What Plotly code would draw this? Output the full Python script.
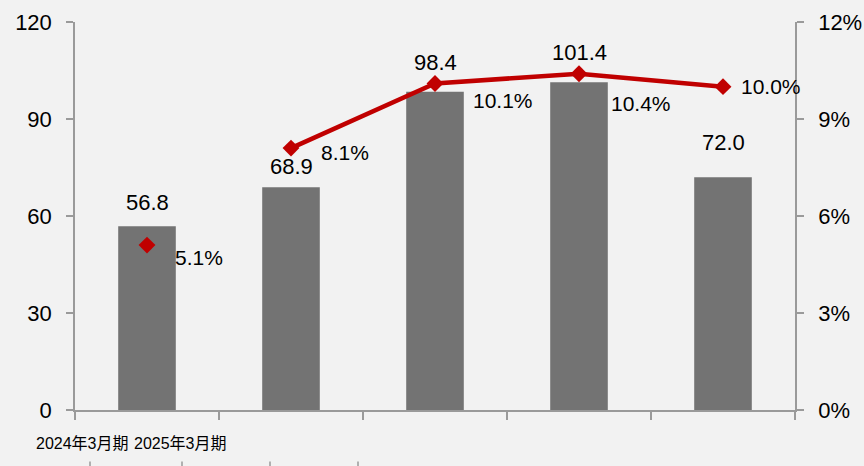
import plotly.graph_objects as go

categories = ["2024年3月期", "2025年3月期", "", "", ""]
bar_values = [56.8, 68.9, 98.4, 101.4, 72.0]
ratio_values = [5.1, 8.1, 10.1, 10.4, 10.0]  # percent
left_ticks = [0, 30, 60, 90, 120]
right_ticks = [0, 3, 6, 9, 12]

# label offsets (style) in px
bar_label_yshift = [9, 6, 15, 15, 20]
ratio_label_offsets = [(26, -12), (28, -4), (36, -17), (30, -30), (16, 0)]

BAR_COLOR = "#737373"
LINE_COLOR = "#C00000"
AXIS_COLOR = "#9A9A9A"
BG = "#F2F2F2"
FONT = "Liberation Sans, Arial, sans-serif"

x_idx = list(range(len(bar_values)))

fig = go.Figure()
fig.add_trace(go.Bar(x=x_idx, y=bar_values, marker=dict(color=BAR_COLOR, line=dict(width=0)),
                     width=0.4, yaxis="y", hoverinfo="skip"))

# isolated first point (marker only)
fig.add_trace(go.Scatter(x=x_idx[:1], y=[v / 100 for v in ratio_values[:1]], mode="markers",
                         marker=dict(symbol="diamond", size=13, color=LINE_COLOR),
                         yaxis="y2", hoverinfo="skip"))
# connected series
fig.add_trace(go.Scatter(x=x_idx[1:], y=[v / 100 for v in ratio_values[1:]], mode="lines+markers",
                         line=dict(color=LINE_COLOR, width=4.5),
                         marker=dict(symbol="diamond", size=13, color=LINE_COLOR),
                         yaxis="y2", hoverinfo="skip"))

annotations = []
for i, v in enumerate(bar_values):
    annotations.append(dict(x=i, y=v, xref="x", yref="y", text=f"{v:.1f}", showarrow=False,
                            xanchor="center", yanchor="bottom", yshift=bar_label_yshift[i],
                            font=dict(family=FONT, size=22, color="#000000")))
for i, v in enumerate(ratio_values):
    dx, dy = ratio_label_offsets[i]
    annotations.append(dict(x=i, y=v / 100, xref="x", yref="y2", text=f"{v:.1f}%", showarrow=False,
                            xanchor="left", yanchor="middle", xshift=dx, yshift=dy,
                            font=dict(family=FONT, size=21, color="#000000")))

label_pos = [0.011, 0.146]
for i, p in enumerate(label_pos):
    annotations.append(dict(x=p, y=0, xref="paper", yref="paper", text=categories[i], showarrow=False,
                            xanchor="center", yanchor="middle", yshift=-33,
                            font=dict(family="Liberation Sans, Noto Sans CJK JP, sans-serif",
                                      size=16, color="#000000")))

shapes = []
for px in [90, 182, 270, 358]:
    xp = (px - 75) / 720
    shapes.append(dict(type="line", xref="paper", yref="paper", x0=xp, x1=xp, y0=-0.133, y1=-0.16,
                       line=dict(color=AXIS_COLOR, width=1.5)))

fig.update_layout(
    width=864, height=466,
    margin=dict(l=75, r=69, t=22, b=56, autoexpand=False),
    paper_bgcolor=BG, plot_bgcolor=BG,
    showlegend=False,
    font=dict(family=FONT, size=22, color="#000000"),
    xaxis=dict(range=[-0.5, 4.5], tickmode="array", tickvals=[i - 0.5 for i in range(len(categories) + 1)],
               ticktext=[""] * (len(categories) + 1), ticks="outside", ticklen=8, tickcolor=AXIS_COLOR,
               tickwidth=1.5, showline=True, linecolor=AXIS_COLOR, linewidth=1.5, showgrid=False,
               zeroline=False, automargin=False),
    yaxis=dict(range=[0, 120], tickvals=left_ticks, ticks="outside", ticklen=7, tickcolor=AXIS_COLOR,
               tickwidth=1.5, showline=True, linecolor=AXIS_COLOR, linewidth=1.5, showgrid=False,
               zeroline=False, tickfont=dict(family=FONT, size=22), ticklabelstandoff=10,
               automargin=False),
    yaxis2=dict(range=[0, 0.12], tickvals=[t / 100 for t in right_ticks],
                ticktext=[f"{t}%" for t in right_ticks], overlaying="y", side="right",
                ticks="outside", ticklen=7, tickcolor=AXIS_COLOR, tickwidth=1.5, showline=True,
                linecolor=AXIS_COLOR, linewidth=1.5, showgrid=False, zeroline=False,
                tickfont=dict(family=FONT, size=22), ticklabelstandoff=10, automargin=False),
    annotations=annotations,
    shapes=shapes,
)

fig.write_html("out.html", config={"displayModeBar": False},
               post_script="document.body.style.margin='0';")
